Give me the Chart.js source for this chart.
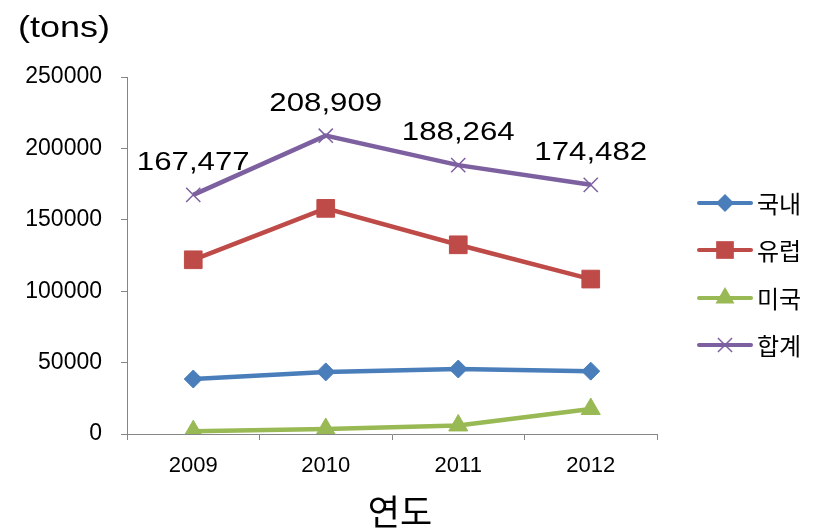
<!DOCTYPE html>
<html>
<head>
<meta charset="utf-8">
<script src="https://cdn.jsdelivr.net/npm/chart.js@4.4.0/dist/chart.umd.min.js"></script>
<style>
  html, body { margin: 0; padding: 0; background: #fff; }
</style>
</head>
<body>
<canvas id="chart" width="821" height="530"></canvas>
<script>
const years = ['2009', '2010', '2011', '2012'];
const domestic = [38500, 43500, 45500, 44000];
const europe = [122000, 158000, 132500, 108500];
const usa = [2000, 3500, 6000, 17500];
const total = [167477, 208909, 188264, 174482];
const seriesNames = ['국내', '유럽', '미국', '합계'];
const yTicks = [0, 50000, 100000, 150000, 200000, 250000];

const colors = ['#4A7EBB', '#BE4B48', '#98B954', '#7D60A0'];
const pointStyles = ['rectRot', 'rect', 'triangle', 'crossRot'];
const pointSizes = [9, 12.5, 11, 10];

const axisColor = '#868686';
const latin = '"Liberation Sans", Arial, sans-serif';
const korean = '"Noto Sans CJK KR", sans-serif';

// texto esticado na horizontal (a fonte original é mais larga)
function wideText(ctx, text, x, y, sx) {
  ctx.save();
  ctx.translate(x, y);
  ctx.scale(sx, 1);
  ctx.fillText(text, 0, 0);
  ctx.restore();
}

function drawMarker(ctx, style, x, y, r, color) {
  ctx.save();
  ctx.fillStyle = color;
  ctx.strokeStyle = color;
  ctx.beginPath();
  if (style === 'rectRot') {
    ctx.moveTo(x, y - r); ctx.lineTo(x + r, y); ctx.lineTo(x, y + r); ctx.lineTo(x - r, y);
    ctx.closePath(); ctx.fill();
  } else if (style === 'rect') {
    const s = r * Math.SQRT1_2;
    ctx.rect(x - s, y - s, 2 * s, 2 * s); ctx.fill();
  } else if (style === 'triangle') {
    ctx.moveTo(x, y - r);
    ctx.lineTo(x + r * 0.866, y + r / 2);
    ctx.lineTo(x - r * 0.866, y + r / 2);
    ctx.closePath(); ctx.fill();
  } else {
    const d = r * Math.SQRT1_2;
    ctx.lineWidth = 1.5;
    ctx.moveTo(x - d, y - d); ctx.lineTo(x + d, y + d);
    ctx.moveTo(x + d, y - d); ctx.lineTo(x - d, y + d);
    ctx.stroke();
  }
  ctx.restore();
}

const extras = {
  id: 'extras',
  afterDatasetsDraw(chart) {
    const ctx = chart.ctx;
    ctx.save();
    ctx.fillStyle = '#000';

    // rótulos do total
    ctx.font = '26px ' + latin;
    ctx.textAlign = 'center';
    ctx.textBaseline = 'middle';
    chart.getDatasetMeta(3).data.forEach((pt, i) => {
      wideText(ctx, total[i].toLocaleString('en-US'), pt.x, pt.y - 32, 1.2);
    });

    // unidade
    ctx.textAlign = 'left';
    ctx.font = '30px ' + latin;
    wideText(ctx, '(tons)', 18, 29, 1.2);

    // título do eixo x
    ctx.textAlign = 'center';
    ctx.font = '35px ' + korean;
    ctx.fillText('연도', 400, 512);

    // legenda
    ctx.textAlign = 'left';
    ctx.font = '24px ' + korean;
    const legendY = [203, 250, 298, 345];
    seriesNames.forEach((name, i) => {
      const y = legendY[i];
      ctx.save();
      ctx.strokeStyle = colors[i];
      ctx.lineWidth = 4;
      ctx.lineCap = 'round';
      ctx.beginPath();
      ctx.moveTo(699, y); ctx.lineTo(751, y);
      ctx.stroke();
      ctx.restore();
      drawMarker(ctx, pointStyles[i], 725, y, pointSizes[i], colors[i]);
      ctx.fillStyle = '#000';
      ctx.fillText(name, 757, y + 1);
    });
    ctx.restore();
  }
};

function makeDataset(label, data, i) {
  return {
    label: label,
    data: data,
    borderColor: colors[i],
    backgroundColor: colors[i],
    borderWidth: 4.5,
    pointStyle: pointStyles[i],
    pointRadius: pointSizes[i],
    pointHoverRadius: pointSizes[i],
    pointBorderWidth: i === 3 ? 1.5 : 1,
    tension: 0
  };
}

new Chart(document.getElementById('chart'), {
  type: 'line',
  data: {
    labels: years,
    datasets: [
      makeDataset(seriesNames[0], domestic, 0),
      makeDataset(seriesNames[1], europe, 1),
      makeDataset(seriesNames[2], usa, 2),
      makeDataset(seriesNames[3], total, 3)
    ]
  },
  options: {
    responsive: false,
    animation: false,
    layout: { padding: { left: 0, right: 164, top: 77, bottom: 0 } },
    plugins: {
      legend: { display: false },
      tooltip: { enabled: false }
    },
    scales: {
      x: {
        offset: true,
        grid: { offset: true, drawOnChartArea: false, drawTicks: true, tickLength: 6, color: axisColor },
        border: { color: axisColor, width: 1 },
        ticks: { color: '#000', font: { family: latin, size: 22 }, padding: 13 },
        afterFit(scale) { scale.height = 96; }
      },
      y: {
        min: 0,
        max: 250000,
        afterBuildTicks(scale) { scale.ticks = yTicks.map(v => ({ value: v })); },
        grid: { drawOnChartArea: false, drawTicks: true, tickLength: 6, color: axisColor },
        border: { color: axisColor, width: 1 },
        ticks: { color: '#000', font: { family: latin, size: 23 }, padding: 19, callback: v => String(v) },
        afterFit(scale) { scale.width = 127; }
      }
    }
  },
  plugins: [extras]
});
</script>
</body>
</html>
